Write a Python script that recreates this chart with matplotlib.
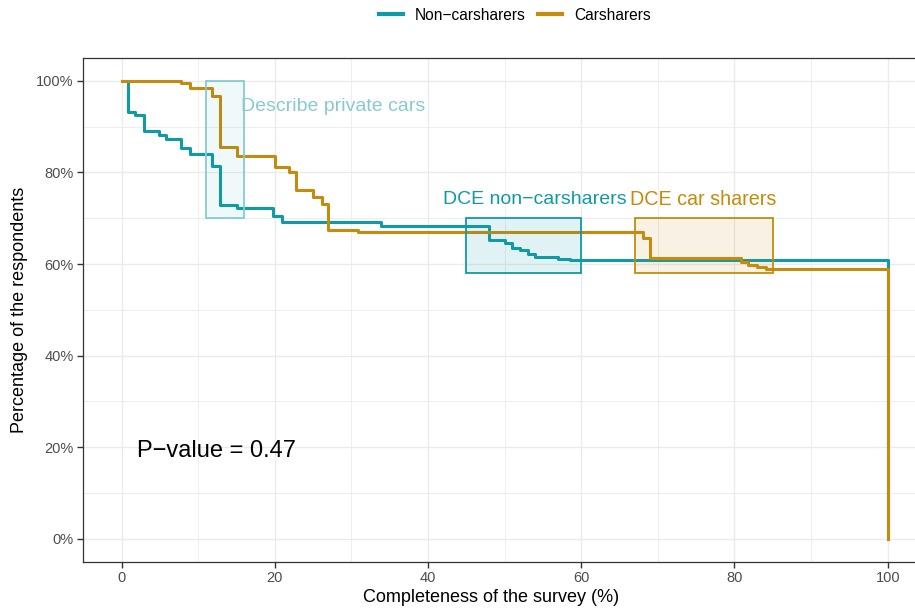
import numpy as np
import matplotlib
matplotlib.use("Agg")
from matplotlib import pyplot as plt
from matplotlib.patches import Rectangle
from matplotlib.lines import Line2D
from matplotlib.ticker import MultipleLocator, FuncFormatter

plt.rcParams['font.family'] = ['Liberation Sans', 'DejaVu Sans']

TEAL = '#0f9aa6'
GOLD = '#c48b0c'

# survival steps (completeness %, share of respondents still in %)
non_time = [0, 0.9, 1.8, 2.9, 4.9, 5.8, 7.8, 8.9, 11.8, 12.8, 15.0, 19.8, 21.0,
            33.9, 48.0, 50.0, 50.9, 52.0, 53.0, 53.9, 57.0, 58.5, 100, 100]
non_surv = [100, 93.2, 92.6, 89.0, 88.2, 87.4, 85.3, 84.0, 81.5, 73.0, 72.3, 70.4, 69.2,
            68.4, 65.3, 64.5, 63.4, 63.0, 62.3, 61.5, 61.2, 60.9, 0, 0]

car_time = [0, 7.8, 8.9, 11.8, 12.9, 15.0, 20.0, 21.8, 22.8, 25.0, 26.1, 26.9,
            30.9, 68.0, 69.0, 80.9, 81.8, 82.9, 84.1, 100, 100]
car_surv = [100, 99.6, 98.4, 96.7, 85.5, 83.7, 81.1, 80.0, 76.2, 74.7, 73.2, 67.4,
            67.0, 65.7, 61.4, 60.4, 59.8, 59.4, 59.0, 0, 0]

# highlighted survey sections: (x0, x1, y0, y1)
box_private = (11, 16, 70, 100)
box_dce_non = (45, 60, 58, 70)
box_dce_car = (67, 85, 58, 70)

p_value = 0.47

fig = plt.figure(figsize=(9.15, 6.13), dpi=100)
ax = fig.add_axes([83.3 / 915, 51.3 / 613, 842.7 / 915, 503.7 / 613])

ax.step(non_time, non_surv, where='post', color=TEAL, lw=2.2, zorder=3)
ax.step(car_time, car_surv, where='post', color=GOLD, lw=2.2, zorder=4)

x0, x1, y0, y1 = box_private
ax.add_patch(Rectangle((x0, y0), x1 - x0, y1 - y0, facecolor=TEAL, alpha=0.06,
                       edgecolor='none', zorder=5))
ax.add_patch(Rectangle((x0, y0), x1 - x0, y1 - y0, facecolor='none',
                       edgecolor='#86cbd2', lw=1.3, zorder=5))
x0, x1, y0, y1 = box_dce_non
ax.add_patch(Rectangle((x0, y0), x1 - x0, y1 - y0, facecolor=TEAL, alpha=0.12,
                       edgecolor='none', zorder=5))
ax.add_patch(Rectangle((x0, y0), x1 - x0, y1 - y0, facecolor='none',
                       edgecolor=TEAL, lw=1.3, zorder=5))
x0, x1, y0, y1 = box_dce_car
ax.add_patch(Rectangle((x0, y0), x1 - x0, y1 - y0, facecolor=GOLD, alpha=0.11,
                       edgecolor='none', zorder=5))
ax.add_patch(Rectangle((x0, y0), x1 - x0, y1 - y0, facecolor='none',
                       edgecolor=GOLD, lw=1.3, zorder=5))

ax.text(15.6, 94.4, 'Describe private cars', color='#86cbd2', fontsize=14,
        ha='left', va='center', zorder=6)
ax.text(53.9, 74.2, 'DCE non\u2212carsharers', color=TEAL, fontsize=14,
        ha='center', va='center', zorder=6)
ax.text(75.9, 74.2, 'DCE car sharers', color=GOLD, fontsize=14.2,
        ha='center', va='center', zorder=6)
ax.text(2.0, 19.2, 'P\u2212value = %.2f' % p_value, color='black', fontsize=17,
        ha='left', va='center', zorder=6)

ax.set_xlim(-5, 105)
ax.set_ylim(-5, 105)
ax.xaxis.set_major_locator(MultipleLocator(20))
ax.xaxis.set_minor_locator(MultipleLocator(10))
ax.yaxis.set_major_locator(MultipleLocator(20))
ax.yaxis.set_minor_locator(MultipleLocator(10))
ax.yaxis.set_major_formatter(FuncFormatter(lambda v, _: '%d%%' % v))

ax.grid(which='major', color='#ebebeb', lw=1.0, zorder=0)
ax.grid(which='minor', color='#ebebeb', lw=0.6, zorder=0)
ax.set_axisbelow(True)
ax.tick_params(which='major', length=4, width=1, color='#333333',
               labelcolor='#4d4d4d', labelsize=10.5, pad=3)
ax.tick_params(which='minor', length=0)
for s in ax.spines.values():
    s.set_color('#333333')
    s.set_linewidth(0.9)

ax.set_xlabel('Completeness of the survey (%)', fontsize=13)
ax.set_ylabel('Percentage of the respondents', fontsize=13)
ax.xaxis.set_label_coords(0.484, -0.055)
ax.yaxis.set_label_coords(-0.066, 0.5)

handles = [Line2D([], [], color=TEAL, lw=3), Line2D([], [], color=GOLD, lw=3)]
fig.legend(handles, ['Non\u2212carsharers', 'Carsharers'], loc='center',
           bbox_to_anchor=(0.563, 0.975), ncol=2, frameon=False, fontsize=11.2,
           handlelength=1.5, columnspacing=0.8, handletextpad=0.8)

fig.savefig('out.png', dpi=100)
